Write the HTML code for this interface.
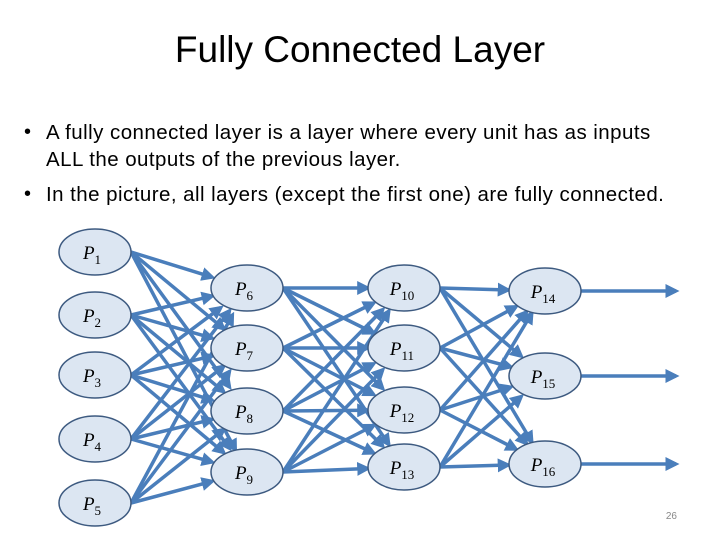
<!DOCTYPE html>
<html><head><meta charset="utf-8"><style>
body{margin:0;width:720px;height:540px;background:#fff;position:relative;overflow:hidden;font-family:"Liberation Sans",sans-serif;}
.t{position:absolute;left:0;width:720px;text-align:center;top:29px;font-size:37px;color:#000;}
.b{position:absolute;left:46px;font-size:20.5px;letter-spacing:0.45px;color:#000;white-space:nowrap;}
.d{position:absolute;left:24px;font-size:20px;}
svg{position:absolute;left:0;top:0;}
</style></head><body>
<div class="t">Fully Connected Layer</div>
<div class="d" style="top:121px">•</div>
<div class="b" style="top:121px">A fully connected layer is a layer where every unit has as inputs</div>
<div class="b" style="top:148px">ALL the outputs of the previous layer.</div>
<div class="d" style="top:183px">•</div>
<div class="b" style="top:183px">In the picture, all layers (except the first one) are fully connected.</div>
<svg id="s" width="720" height="540" xmlns="http://www.w3.org/2000/svg">
<defs><marker id="a" markerWidth="4" markerHeight="4" refX="3" refY="2" orient="auto"><path d="M0,0 L4,2 L0,4 z" fill="#4a7ebb"/></marker></defs>
<g id="e" stroke="#4a7ebb" stroke-width="3.5" marker-end="url(#a)"></g>
<g id="n" fill="#dce6f2" stroke="#3d5a80" stroke-width="1.5"></g>
<g font-family="Liberation Serif,serif" font-style="italic" font-size="19" fill="#000" text-anchor="middle">
<text x="92" y="259">P<tspan font-size="13" font-style="normal" dy="5">1</tspan></text>
<text x="92" y="322">P<tspan font-size="13" font-style="normal" dy="5">2</tspan></text>
<text x="92" y="382">P<tspan font-size="13" font-style="normal" dy="5">3</tspan></text>
<text x="92" y="446">P<tspan font-size="13" font-style="normal" dy="5">4</tspan></text>
<text x="92" y="510">P<tspan font-size="13" font-style="normal" dy="5">5</tspan></text>
<text x="244" y="295">P<tspan font-size="13" font-style="normal" dy="5">6</tspan></text>
<text x="244" y="355">P<tspan font-size="13" font-style="normal" dy="5">7</tspan></text>
<text x="244" y="418">P<tspan font-size="13" font-style="normal" dy="5">8</tspan></text>
<text x="244" y="479">P<tspan font-size="13" font-style="normal" dy="5">9</tspan></text>
<text x="402" y="295">P<tspan font-size="13" font-style="normal" dy="5">10</tspan></text>
<text x="402" y="355">P<tspan font-size="13" font-style="normal" dy="5">11</tspan></text>
<text x="402" y="417">P<tspan font-size="13" font-style="normal" dy="5">12</tspan></text>
<text x="402" y="474">P<tspan font-size="13" font-style="normal" dy="5">13</tspan></text>
<text x="543" y="298">P<tspan font-size="13" font-style="normal" dy="5">14</tspan></text>
<text x="543" y="383">P<tspan font-size="13" font-style="normal" dy="5">15</tspan></text>
<text x="543" y="471">P<tspan font-size="13" font-style="normal" dy="5">16</tspan></text>
</g>
<text x="677" y="519" font-size="10" fill="#888" text-anchor="end" font-family="Liberation Sans,sans-serif">26</text>
</svg>
<script>
var L=[[95,[252,315,375,439,503]],[247,[288,348,411,472]],[404,[288,348,410,467]],[545,[291,376,464]]];
var rx=36,ry=23,ns="http://www.w3.org/2000/svg",E=document.getElementById('e'),N=document.getElementById('n');
function ln(x1,y1,x2,y2){var l=document.createElementNS(ns,'line');l.setAttribute('x1',x1);l.setAttribute('y1',y1);l.setAttribute('x2',x2);l.setAttribute('y2',y2);E.appendChild(l);}
for(var i=0;i<3;i++){var a=L[i],b=L[i+1];a[1].forEach(function(y1){b[1].forEach(function(y2){
var x1=a[0]+rx,x2=b[0],dx=x2-x1,dy=y2-y1;
var t=1;for(var k=0;k<40;k++){var px=x1+dx*t,py=y1+dy*t;var v=Math.pow((px-b[0])/rx,2)+Math.pow((py-y2)/ry,2);if(v>1)break;t-=0.025;}
ln(x1,y1,x1+dx*t,y1+dy*t);});});}
L[3][1].forEach(function(y){ln(545+rx,y,676,y);});
L.forEach(function(c){c[1].forEach(function(y){var e=document.createElementNS(ns,'ellipse');e.setAttribute('cx',c[0]);e.setAttribute('cy',y);e.setAttribute('rx',rx);e.setAttribute('ry',ry);N.appendChild(e);});});
</script>
</body></html>
